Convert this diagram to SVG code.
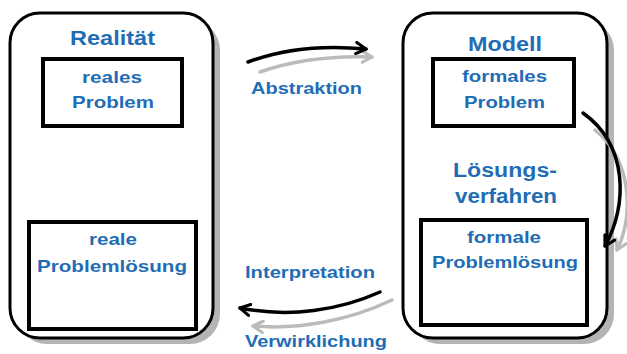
<svg xmlns="http://www.w3.org/2000/svg" width="627" height="354" viewBox="0 0 627 354">
<defs>
<style>
.frame{fill:#fff;stroke:#000;stroke-width:3}
.shadow{fill:#b4b4b4;stroke:none}
.inner{fill:#fff;stroke:#000;stroke-width:4}
.t{font-family:"Liberation Sans",Arial,sans-serif;font-weight:bold;fill:#1f6db5}
.title{font-size:21px}
.lbl{font-size:17px}
.big{font-size:20px}
.arr{fill:none;stroke:#000;stroke-width:3.5;stroke-linecap:round}
.arrs{fill:none;stroke:#bbbbbb;stroke-width:3.5;stroke-linecap:round}
</style>
<marker id="head" viewBox="0 0 10 10" refX="8" refY="5" markerWidth="4" markerHeight="4" orient="auto" markerUnits="strokeWidth">
<path d="M1,1 L8,5 L1,9" fill="none" stroke="#000" stroke-width="2.2" stroke-linecap="round" stroke-linejoin="round"/>
</marker>
<marker id="heads" viewBox="0 0 10 10" refX="8" refY="5" markerWidth="4" markerHeight="4" orient="auto" markerUnits="strokeWidth">
<path d="M1,1 L8,5 L1,9" fill="none" stroke="#bbbbbb" stroke-width="2.2" stroke-linecap="round" stroke-linejoin="round"/>
</marker>
</defs>
<g id="realitaet">
<rect class="shadow" x="17" y="20" width="203" height="324" rx="30"/>
<rect class="frame" x="10" y="13" width="203" height="325" rx="30"/>
<text class="t title" x="70" y="45" textLength="85" lengthAdjust="spacingAndGlyphs">Realität</text>
</g>
<g id="reales-problem">
<rect class="inner" x="43" y="59" width="139" height="67"/>
<text class="t lbl" x="82" y="83" textLength="60" lengthAdjust="spacingAndGlyphs">reales</text>
<text class="t lbl" x="72" y="108" textLength="82" lengthAdjust="spacingAndGlyphs">Problem</text>
</g>
<g id="reale-problemloesung">
<rect class="inner" x="29" y="222" width="167" height="107"/>
<text class="t lbl" x="89" y="245" textLength="48" lengthAdjust="spacingAndGlyphs">reale</text>
<text class="t lbl" x="37" y="272" textLength="150" lengthAdjust="spacingAndGlyphs">Problemlösung</text>
</g>
<g id="modell">
<rect class="shadow" x="410" y="20" width="204" height="324" rx="30"/>
<rect class="frame" x="403" y="13" width="204" height="325" rx="30"/>
<text class="t title" x="468" y="51" textLength="74" lengthAdjust="spacingAndGlyphs">Modell</text>
<text class="t big" x="453" y="177" textLength="104" lengthAdjust="spacingAndGlyphs">Lösungs-</text>
<text class="t big" x="455" y="203" textLength="102" lengthAdjust="spacingAndGlyphs">verfahren</text>
</g>
<g id="formales-problem">
<rect class="inner" x="433" y="59" width="141" height="67"/>
<text class="t lbl" x="462" y="82" textLength="85" lengthAdjust="spacingAndGlyphs">formales</text>
<text class="t lbl" x="464" y="108" textLength="81" lengthAdjust="spacingAndGlyphs">Problem</text>
</g>
<g id="formale-problemloesung">
<rect class="inner" x="421" y="220" width="166" height="105"/>
<text class="t lbl" x="467" y="243" textLength="74" lengthAdjust="spacingAndGlyphs">formale</text>
<text class="t lbl" x="432" y="268" textLength="146" lengthAdjust="spacingAndGlyphs">Problemlösung</text>
</g>
<g id="connectors">
<path class="arrs" d="M260,72 C300,58 340,56 372,57" marker-end="url(#heads)"/>
<path class="arr" d="M248,62 C285,48 325,45 366,49" marker-end="url(#head)"/>
<text class="t lbl" x="251" y="94" textLength="111" lengthAdjust="spacingAndGlyphs">Abstraktion</text>
<path class="arrs" d="M595,130 C632,160 634,215 617,250" marker-end="url(#heads)"/>
<path class="arr" d="M583,113 C628,145 628,205 605,246" marker-end="url(#head)"/>
<path class="arrs" d="M392,300 C350,320 300,330 253,326" marker-end="url(#heads)"/>
<path class="arr" d="M380,292 C340,310 290,318 240,308" marker-end="url(#head)"/>
<text class="t lbl" x="245" y="278" textLength="130" lengthAdjust="spacingAndGlyphs">Interpretation</text>
<text class="t lbl" x="245" y="347" textLength="142" lengthAdjust="spacingAndGlyphs">Verwirklichung</text>
</g>
</svg>
